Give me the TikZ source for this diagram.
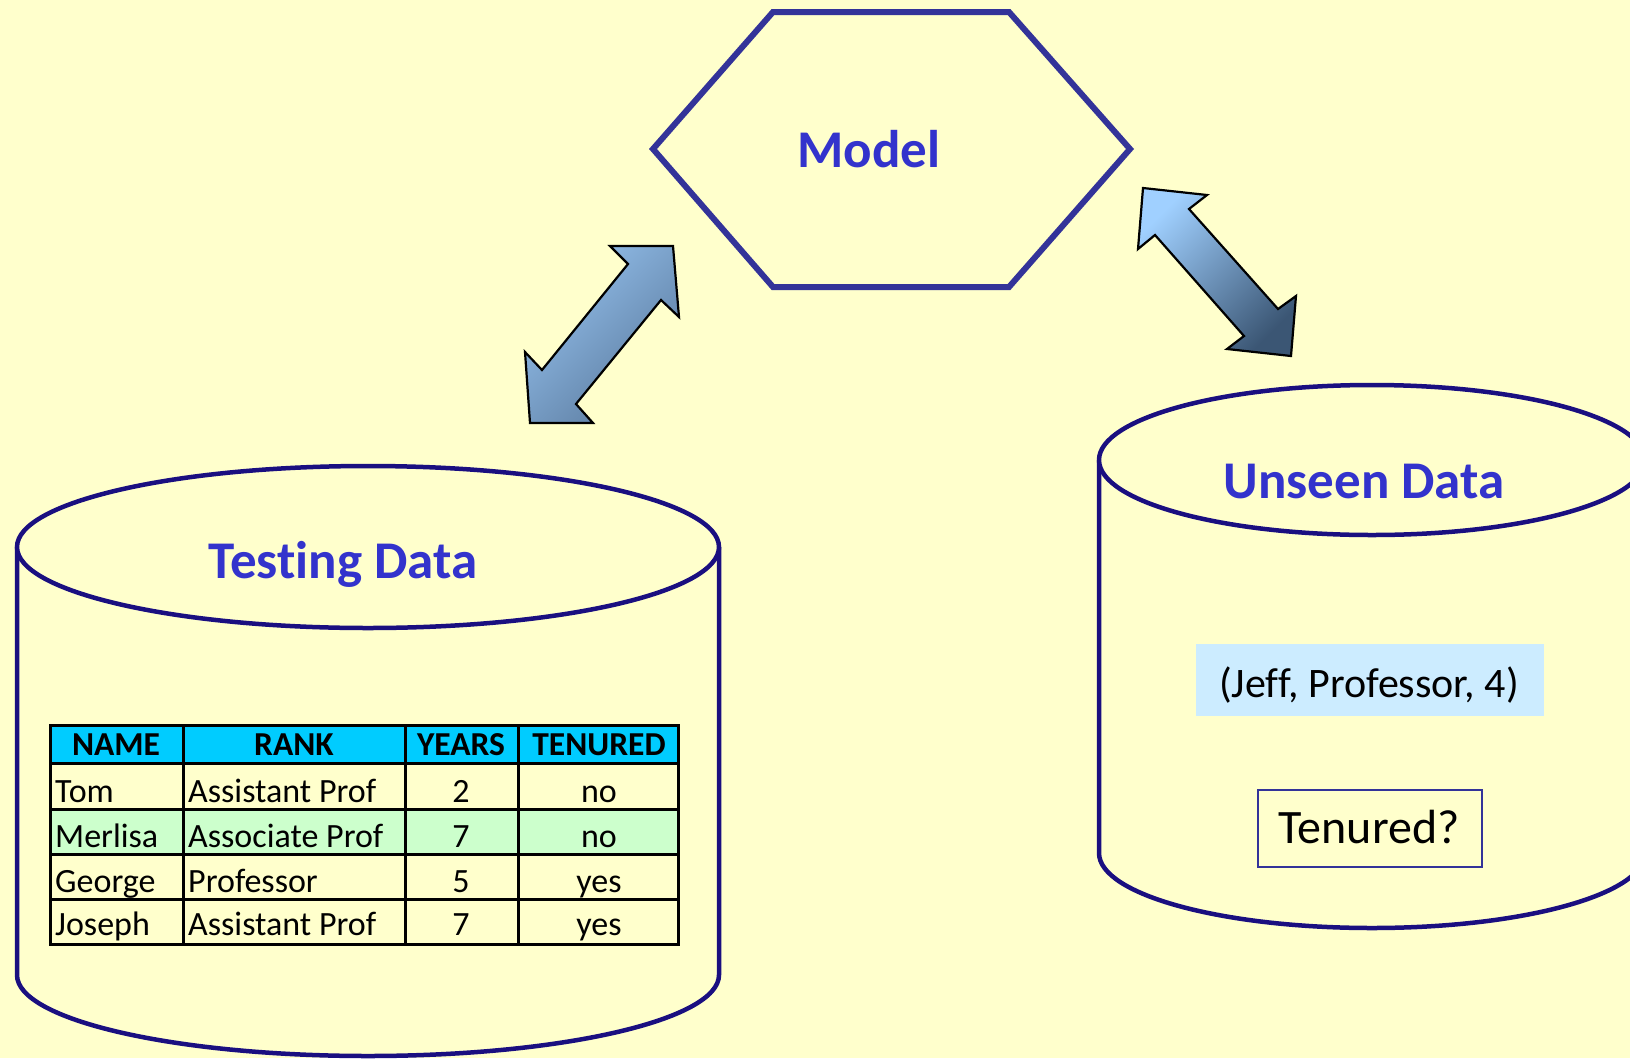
\documentclass[tikz,border=0pt]{standalone}
\usepackage{fontspec}
\setmainfont{Carlito}[Ligatures=CommonOff]
\definecolor{bg}{HTML}{FFFFCC}
\definecolor{hexline}{HTML}{333399}
\definecolor{cylline}{HTML}{1A0F80}
\definecolor{titleblue}{HTML}{3333CC}
\definecolor{headfill}{HTML}{00CCFF}
\definecolor{greenrow}{HTML}{CCFFCC}
\definecolor{tuplefill}{HTML}{CCECFF}
\definecolor{arrLlight}{HTML}{94C0EC}
\definecolor{arrLdark}{HTML}{5B7B9F}
\definecolor{arrRlight}{HTML}{A0D0FF}
\definecolor{arrRdark}{HTML}{3B5674}
\begin{document}
\begin{tikzpicture}[x=1bp,y=-1bp,
  title/.style={inner sep=0pt,anchor=base,text=titleblue,
    font=\fontsize{53bp}{60bp}\selectfont\bfseries},
  cyl/.style={draw=cylline,line width=4.5bp,fill=bg},
  blockarrow/.style={draw=black,line width=2.2bp,line join=miter},
  grid/.style={draw=black,line width=3bp},
  hcell/.style={inner sep=0pt,anchor=base,font=\fontsize{33.5bp}{38bp}\selectfont\bfseries},
  cell/.style={inner sep=0pt,font=\fontsize{34bp}{40bp}\selectfont},
  lcell/.style={cell,anchor=base west},
  ccell/.style={cell,anchor=base}]

% page background
\fill[bg] (0,0) rectangle (1630,1058);
\useasboundingbox (0,0) rectangle (1630,1058);

% model hexagon
\coordinate (hA) at (773,12);
\coordinate (hB) at (1009,12);
\coordinate (hC) at (1130,149);
\coordinate (hD) at (1009,287);
\coordinate (hE) at (773,287);
\coordinate (hF) at (653,149);
\draw[hexline,line width=6bp,line join=miter,fill=bg]
  (hA) -- (hB) -- (hC) -- (hD) -- (hE) -- (hF) -- cycle;
\node[title] (model) at (869,167) {Model};

% testing data cylinder
\draw[cyl] (17,547) -- (17,975)
  arc[start angle=180,end angle=0,x radius=351,y radius=81] -- (719,547);
\draw[cyl] (368,547) ellipse[x radius=351,y radius=81];
\node[title] (testing) at (343,578) {Testing Data};

% unseen data cylinder
\draw[cyl] (1099,460) -- (1099,853)
  arc[start angle=180,end angle=0,x radius=273,y radius=75] -- (1645,460);
\draw[cyl] (1372,460) ellipse[x radius=273,y radius=75];
\node[title] (unseen) at (1364,498) {Unseen Data};

% double-headed block arrows
\path[blockarrow,top color=arrLlight,bottom color=arrLdark,shading angle=45]
  (610,246) -- (673,246) -- (679,317) -- (661,300) -- (576,404) -- (593,423)
  -- (530,423) -- (525,352) -- (542,370) -- (628,264) -- cycle;
\path[blockarrow,top color=arrRlight,bottom color=arrRdark,shading angle=45]
  (1143,188) -- (1207,195) -- (1189,209) -- (1278,309) -- (1296,296)
  -- (1291,356) -- (1227,349) -- (1244,336) -- (1155,235) -- (1138,249) -- cycle;

% table
\fill[headfill] (50,725) rectangle (678,763);
\fill[greenrow] (50,809) rectangle (678,854);
\draw[grid] (50,725) rectangle (678,944);
\foreach \yy in {763,809,854,899} \draw[grid] (50,\yy) -- (678,\yy);
\foreach \xx in {183,405,518} \draw[grid] (\xx,725) -- (\xx,944);

\node[hcell] (hname) at (116,755) {NAME};
\node[hcell] (hrank) at (294,755) {RANK};
\node[hcell] (hyears) at (461,755) {YEARS};
\node[hcell] (htenured) at (599,755) {TENURED};

\node[lcell] (n1) at (55,802) {Tom};
\node[lcell] (r1) at (188,802) {Assistant Prof};
\node[ccell] (y1) at (461,802) {2};
\node[ccell] (t1) at (599,802) {no};

\node[lcell] (n2) at (55,847) {Merlisa};
\node[lcell] (r2) at (188,847) {Associate Prof};
\node[ccell] (y2) at (461,847) {7};
\node[ccell] (t2) at (599,847) {no};

\node[lcell] (n3) at (55,892) {George};
\node[lcell] (r3) at (188,892) {Professor};
\node[ccell] (y3) at (461,892) {5};
\node[ccell] (t3) at (599,892) {yes};

\node[lcell] (n4) at (55,935) {Joseph};
\node[lcell] (r4) at (188,935) {Assistant Prof};
\node[ccell] (y4) at (461,935) {7};
\node[ccell] (t4) at (599,935) {yes};

% unseen tuple and question
\fill[tuplefill] (1196,644) rectangle (1544,716);
\node[inner sep=0pt,anchor=base,font=\fontsize{42bp}{48bp}\selectfont]
  (tuple) at (1369,697) {(Jeff, Professor, 4)};
\draw[hexline,line width=1.6bp] (1258,790) rectangle (1482,867);
\node[inner sep=0pt,anchor=base,font=\fontsize{48bp}{54bp}\selectfont]
  (question) at (1369,843) {Tenured?};
\end{tikzpicture}
\end{document}
